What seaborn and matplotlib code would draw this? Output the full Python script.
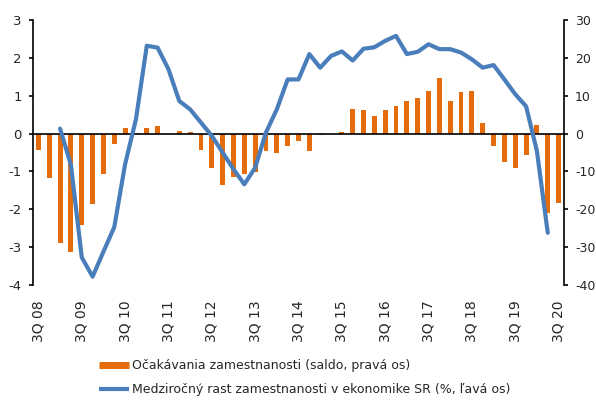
import numpy as np
import pandas as pd
import matplotlib
matplotlib.use("Agg")
import matplotlib.pyplot as plt
import seaborn as sns
from matplotlib.lines import Line2D

quarters = [
    "3Q 08", "4Q 08", "1Q 09", "2Q 09", "3Q 09", "4Q 09", "1Q 10", "2Q 10",
    "3Q 10", "4Q 10", "1Q 11", "2Q 11", "3Q 11", "4Q 11", "1Q 12", "2Q 12",
    "3Q 12", "4Q 12", "1Q 13", "2Q 13", "3Q 13", "4Q 13", "1Q 14", "2Q 14",
    "3Q 14", "4Q 14", "1Q 15", "2Q 15", "3Q 15", "4Q 15", "1Q 16", "2Q 16",
    "3Q 16", "4Q 16", "1Q 17", "2Q 17", "3Q 17", "4Q 17", "1Q 18", "2Q 18",
    "3Q 18", "4Q 18", "1Q 19", "2Q 19", "3Q 19", "4Q 19", "1Q 20", "2Q 20",
    "3Q 20",
]

# Očakávania zamestnanosti (saldo, right axis)
expectations = [
    -4.4, -11.8, -28.8, -31.2, -24.2, -18.7, -10.6, -2.8,
    1.4, 0.2, 1.5, 1.9, 0.0, 0.6, 0.4, -4.4,
    -9.0, -13.6, -11.6, -10.8, -10.1, -4.7, -5.2, -3.4,
    -1.9, -4.7, -0.5, 0.0, 0.4, 6.6, 6.3, 4.7,
    6.3, 7.3, 8.5, 9.4, 11.2, 14.7, 8.7, 10.9,
    11.2, 2.9, -3.4, -7.5, -9.2, -5.7, 2.2, -20.9,
    -18.3,
]

# Medziročný rast zamestnanosti (%, left axis)
growth = [
    np.nan, np.nan, 0.13, -0.83, -3.27, -3.78, -3.12, -2.47,
    -0.81, 0.38, 2.32, 2.27, 1.70, 0.86, 0.64, 0.29,
    -0.06, -0.50, -0.94, -1.34, -0.90, 0.03, 0.64, 1.43,
    1.43, 2.10, 1.74, 2.05, 2.17, 1.93, 2.24, 2.28,
    2.45, 2.58, 2.10, 2.16, 2.36, 2.23, 2.23, 2.14,
    1.96, 1.74, 1.81, 1.43, 1.04, 0.72, -0.46, -2.62,
    np.nan,
]

tick_labels = quarters[::4]
left_ticks = [-4, -3, -2, -1, 0, 1, 2, 3]
right_ticks = [-40, -30, -20, -10, 0, 10, 20, 30]

legend_labels = [
    "Očakávania zamestnanosti (saldo, pravá os)",
    "Medziročný rast zamestnanosti v ekonomike SR (%, ľavá os)",
]

sns.set_style("white")
plt.rcParams["font.family"] = ["DejaVu Sans"]
plt.rcParams["axes.unicode_minus"] = False
plt.rcParams["font.size"] = 10

ORANGE = "#E46C0A"
BLUE = "#4A7EBB"
TXT = "#262626"

df = pd.DataFrame({
    "pos": np.arange(len(quarters)),
    "quarter": quarters,
    "expect": expectations,
    "growth": growth,
})

W, H = 596, 403
fig = plt.figure(figsize=(W / 100, H / 100), dpi=100)
ax = fig.add_axes([33 / W, 1 - 285 / H, (564 - 33) / W, (285 - 20) / H])
ax2 = ax.twinx()

sns.barplot(data=df, x="pos", y="expect", ax=ax2, color=ORANGE, width=0.45,
            native_scale=True, saturation=1, errorbar=None, linewidth=0)
sns.lineplot(data=df.dropna(subset=["growth"]), x="pos", y="growth", ax=ax,
             color=BLUE, lw=3.0, zorder=3)

ax.set_zorder(ax2.get_zorder() + 1)
ax.patch.set_visible(False)

n = len(quarters)
ax.set_xlim(-0.5, n - 0.5)
ax.set_ylim(-4, 3)
ax2.set_ylim(-40, 30)
ax.set_yticks(left_ticks)
ax2.set_yticks(right_ticks)
ax.set_ylabel("")
ax2.set_ylabel("")
ax.set_xlabel("")
ax2.set_xlabel("")

for s in ["top", "right"]:
    ax.spines[s].set_visible(False)
for s in ["top", "left", "bottom"]:
    ax2.spines[s].set_visible(False)
ax.spines["left"].set_color("black")
ax.spines["bottom"].set_color("black")
ax2.spines["right"].set_color("black")
for sp in [ax.spines["left"], ax.spines["bottom"], ax2.spines["right"]]:
    sp.set_linewidth(1.2)

# category axis through zero with boundary ticks
ax.spines["bottom"].set_position(("data", 0))
ax.set_xticks(np.arange(-0.5, n, 1))
ax.set_xticklabels([])
ax.tick_params(axis="x", direction="out", length=3, width=1.2, color="black")

ax.tick_params(axis="y", direction="out", length=3, width=1.2, color="black",
               labelsize=9.5, labelcolor=TXT, pad=5)
ax2.tick_params(axis="y", direction="out", length=3, width=1.2, color="black",
                labelsize=9, labelcolor=TXT, pad=5)

sec = ax.secondary_xaxis("bottom")
sec.set_ticks(np.arange(0, n, 4), labels=tick_labels)
sec.tick_params(length=0, pad=11, labelsize=10, labelcolor=TXT, labelrotation=90)
sec.spines["bottom"].set_visible(False)

handles = [
    Line2D([0], [0], color=ORANGE, lw=5, solid_capstyle="butt"),
    Line2D([0], [0], color=BLUE, lw=3.0, solid_capstyle="butt"),
]
fig.legend(handles=handles, labels=legend_labels, loc="upper left",
           bbox_to_anchor=(99 / W, 1 - 359 / H), frameon=False,
           handlelength=2.4, handletextpad=0.25, labelspacing=0.9,
           fontsize=9, borderaxespad=0, borderpad=0, labelcolor=TXT)

fig.savefig("out.png", dpi=100, facecolor="white")
